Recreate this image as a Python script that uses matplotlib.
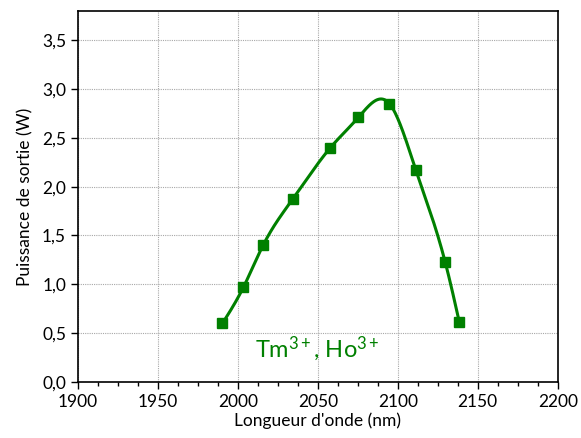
import numpy as np
import matplotlib
matplotlib.use("Agg")
import matplotlib.pyplot as plt
from matplotlib.ticker import MultipleLocator, FuncFormatter

plt.rcParams['font.family'] = ['Lato', 'DejaVu Sans']
plt.rcParams['mathtext.fontset'] = 'custom'
plt.rcParams['mathtext.rm'] = 'Lato'
plt.rcParams['mathtext.it'] = 'Lato:italic'

# data
wavelength = [1990.4, 2003.5, 2015.8, 2034.2, 2057.9, 2075.4, 2094.8, 2111.3, 2129.6, 2138.5]
power = [0.60, 0.97, 1.40, 1.87, 2.40, 2.71, 2.85, 2.17, 1.23, 0.61]
label = "Tm$^{3+}$, Ho$^{3+}$"
green = "#008000"


def natural_spline(x, y, n=400):
    # natural cubic spline, just for drawing the smooth line
    x = np.asarray(x, float)
    y = np.asarray(y, float)
    k = len(x)
    h = np.diff(x)
    A = np.zeros((k, k))
    r = np.zeros(k)
    A[0, 0] = A[-1, -1] = 1
    for i in range(1, k - 1):
        A[i, i - 1] = h[i - 1]
        A[i, i] = 2 * (h[i - 1] + h[i])
        A[i, i + 1] = h[i]
        r[i] = 3 * ((y[i + 1] - y[i]) / h[i] - (y[i] - y[i - 1]) / h[i - 1])
    c = np.linalg.solve(A, r)
    b = (y[1:] - y[:-1]) / h - h * (2 * c[:-1] + c[1:]) / 3
    d = (c[1:] - c[:-1]) / (3 * h)
    xs = np.linspace(x[0], x[-1], n)
    j = np.clip(np.searchsorted(x, xs) - 1, 0, k - 2)
    t = xs - x[j]
    ys = y[j] + b[j] * t + c[j] * t ** 2 + d[j] * t ** 3
    return xs, ys


fig = plt.figure(figsize=(5.81, 4.38), dpi=100)
ax = fig.add_axes([0.134, 0.128, 0.826, 0.847])

xs, ys = natural_spline(wavelength, power)
ax.plot(xs, ys, color=green, lw=2.2, zorder=3)
ax.plot(wavelength, power, 's', color=green, ms=7.5, zorder=4)

ax.text(2011, 0.26, label, color=green, fontsize=17)

ax.set_xlim(1900, 2200)
ax.set_ylim(0, 3.8)
ax.xaxis.set_major_locator(MultipleLocator(50))
ax.xaxis.set_minor_locator(MultipleLocator(12.5))
ax.yaxis.set_major_locator(MultipleLocator(0.5))
ax.yaxis.set_major_formatter(FuncFormatter(lambda v, p: f"{v:.1f}".replace(".", ",")))

ax.grid(True, which='major', color='#a8a8a8', ls=(0, (1, 1)), lw=0.8)
ax.set_axisbelow(True)
ax.tick_params(which='major', length=5, width=1, labelsize=12.5)
ax.tick_params(which='minor', length=3, width=1)
for s in ax.spines.values():
    s.set_linewidth(1.2)

ax.set_xlabel("Longueur d'onde (nm)", fontsize=12.5, labelpad=2)
ax.set_ylabel("Puissance de sortie (W)", fontsize=12.5, labelpad=6)

fig.savefig("out.png", dpi=100)
